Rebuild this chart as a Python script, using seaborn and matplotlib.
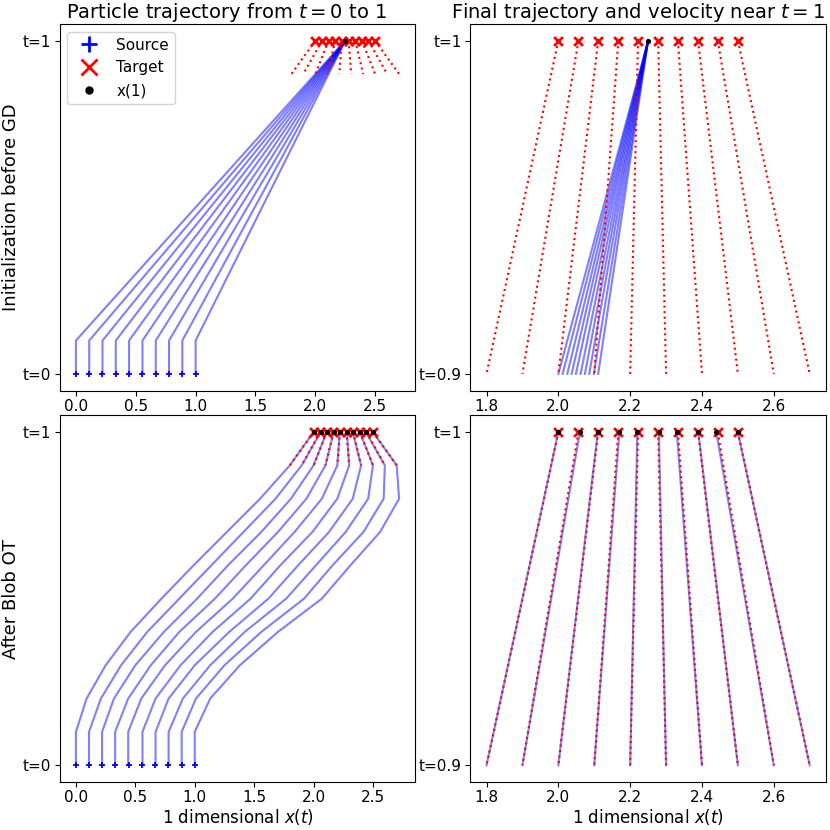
import numpy as np
import pandas as pd
import seaborn as sns
import matplotlib.pyplot as plt
from matplotlib.lines import Line2D

# particles at t=0 and the targets at t=1
source = [0.0, 0.111, 0.222, 0.333, 0.444, 0.556, 0.667, 0.778, 0.889, 1.0]
target = [2.0, 2.056, 2.111, 2.167, 2.222, 2.278, 2.333, 2.389, 2.444, 2.5]
# point at t=0.9 given by the target velocity
vel_x09 = [1.8, 1.9, 2.0, 2.1, 2.2, 2.3, 2.4, 2.5, 2.6, 2.7]

# initialization before GD: every particle ends in one point
init_times = [0.0, 0.1, 1.0]
init_end = 2.25
init_x09 = [2.0, 2.012, 2.025, 2.037, 2.049, 2.062, 2.074, 2.086, 2.099, 2.111]

# after Blob OT, positions at t = 0, 0.1, ..., 1
ot_times = [0.0, 0.1, 0.2, 0.3, 0.4, 0.5, 0.6, 0.7, 0.8, 0.9, 1.0]
ot_x = [
    [0.00, 0.00, 0.09, 0.25, 0.46, 0.72, 0.99, 1.27, 1.55, 1.80, 2.00],
    [0.11, 0.11, 0.21, 0.38, 0.60, 0.87, 1.14, 1.41, 1.68, 1.90, 2.06],
    [0.22, 0.22, 0.32, 0.50, 0.74, 1.02, 1.28, 1.56, 1.81, 2.00, 2.11],
    [0.33, 0.33, 0.44, 0.63, 0.87, 1.17, 1.43, 1.70, 1.94, 2.10, 2.17],
    [0.44, 0.44, 0.55, 0.75, 1.01, 1.32, 1.58, 1.84, 2.07, 2.20, 2.22],
    [0.56, 0.56, 0.67, 0.88, 1.15, 1.47, 1.72, 1.99, 2.20, 2.30, 2.28],
    [0.67, 0.67, 0.78, 1.00, 1.29, 1.62, 1.87, 2.13, 2.33, 2.40, 2.33],
    [0.78, 0.78, 0.90, 1.13, 1.42, 1.77, 2.02, 2.27, 2.46, 2.50, 2.39],
    [0.89, 0.89, 1.01, 1.25, 1.56, 1.92, 2.16, 2.42, 2.59, 2.60, 2.44],
    [1.00, 1.00, 1.13, 1.38, 1.70, 2.07, 2.31, 2.56, 2.72, 2.70, 2.50],
]

n = len(source)

# long form tables for seaborn
init_traj = pd.DataFrame(
    [(i, t, x) for i in range(n)
     for t, x in zip(init_times, [source[i], source[i], init_end])],
    columns=["particle", "t", "x"])
init_last = pd.DataFrame(
    [(i, t, x) for i in range(n)
     for t, x in zip([0.9, 1.0], [init_x09[i], init_end])],
    columns=["particle", "t", "x"])
ot_traj = pd.DataFrame(
    [(i, t, x) for i in range(n) for t, x in zip(ot_times, ot_x[i])],
    columns=["particle", "t", "x"])
ot_last = ot_traj[ot_traj["t"] >= 0.9]
vel = pd.DataFrame(
    [(i, t, x) for i in range(n)
     for t, x in zip([1.0, 0.9], [target[i], vel_x09[i]])],
    columns=["particle", "t", "x"])

fig, axes = plt.subplots(2, 2, figsize=(8.3, 8.3), dpi=100)


def draw(ax, traj, x_end, show_source):
    sns.lineplot(data=traj, x="x", y="t", units="particle", estimator=None,
                 sort=False, color="blue", alpha=0.5, lw=1.5, ax=ax)
    sns.lineplot(data=vel, x="x", y="t", units="particle", estimator=None,
                 sort=False, color="red", ls=":", lw=1.5, ax=ax)
    if show_source:
        sns.scatterplot(x=source, y=[0.0] * n, marker="+", color="blue",
                        s=25, linewidth=1.3, zorder=3, ax=ax)
    sns.scatterplot(x=target, y=[1.0] * n, marker="x", color="red",
                    s=40, linewidth=2, zorder=3, ax=ax)
    sns.scatterplot(x=x_end, y=[1.0] * len(x_end), color="black",
                    s=14, linewidth=0, zorder=4, ax=ax)
    ax.set_xlabel("")
    ax.set_ylabel("")


draw(axes[0, 0], init_traj, [init_end], True)
draw(axes[0, 1], init_last, [init_end], False)
ot_end = [row[-1] for row in ot_x]
draw(axes[1, 0], ot_traj, ot_end, True)
draw(axes[1, 1], ot_last, ot_end, False)

for ax in axes[:, 0]:
    ax.set_yticks([0, 1], ["t=0", "t=1"])
    ax.set_xticks([0.0, 0.5, 1.0, 1.5, 2.0, 2.5])
for ax in axes[:, 1]:
    ax.set_yticks([0.9, 1], ["t=0.9", "t=1"])
    ax.set_xticks([1.8, 2.0, 2.2, 2.4, 2.6])
for ax in axes.flat:
    ax.tick_params(labelsize=11, pad=2.5)

axes[0, 0].set_title("Particle trajectory from $t=0$ to 1",
                     fontsize=14, pad=3, x=0.47)
axes[0, 1].set_title("Final trajectory and velocity near $t=1$",
                     fontsize=14, pad=3, x=0.47)
axes[0, 0].set_ylabel("Initialization before GD", fontsize=13, labelpad=2)
axes[1, 0].set_ylabel("After Blob OT", fontsize=13, labelpad=2)
axes[1, 0].set_xlabel("1 dimensional $x(t)$", fontsize=12, labelpad=1)
axes[1, 1].set_xlabel("1 dimensional $x(t)$", fontsize=12, labelpad=1)

handles = [
    Line2D([], [], ls="", marker="+", color="blue", ms=11, mew=2),
    Line2D([], [], ls="", marker="x", color="red", ms=11, mew=2),
    Line2D([], [], ls="", marker="o", color="black", ms=5),
]
axes[0, 0].legend(handles, ["Source", "Target", "x(1)"], loc="upper left",
                  fontsize=11)

plt.subplots_adjust(left=0.072, right=0.995, top=0.971, bottom=0.058,
                    wspace=0.155, hspace=0.068)
plt.savefig("out.png")
